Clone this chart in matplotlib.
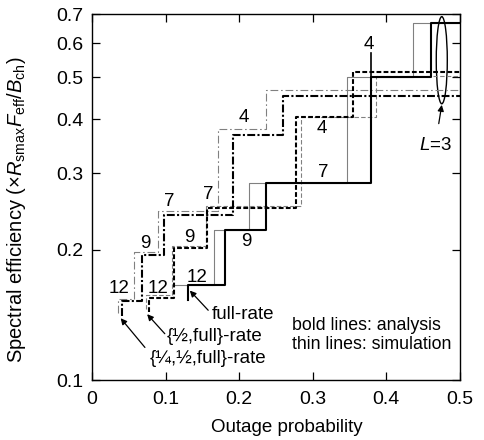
import numpy as np
import matplotlib
matplotlib.use("Agg")
import matplotlib.pyplot as plt
from matplotlib.patches import Ellipse
from matplotlib.ticker import FixedLocator, NullLocator, FixedFormatter

plt.rcParams["font.family"] = ["Liberation Sans", "DejaVu Sans"]
plt.rcParams["mathtext.fontset"] = "custom"
plt.rcParams["mathtext.rm"] = "Liberation Sans"
plt.rcParams["mathtext.it"] = "Liberation Sans:italic"

# step edges (outage probability) and efficiency levels for L = 12, 9, 7, 4, 3
full_ana_x = [0.130, 0.181, 0.236, 0.379, 0.461]
full_ana_y = [0.166, 0.222, 0.285, 0.500, 0.667]
full_sim_x = [0.113, 0.166, 0.214, 0.346, 0.437]
full_sim_y = [0.166, 0.222, 0.285, 0.500, 0.667]

half_ana_x = [0.077, 0.112, 0.156, 0.278, 0.355]
half_ana_y = [0.155, 0.202, 0.250, 0.405, 0.514]
half_sim_x = [0.074, 0.109, 0.155, 0.284, 0.386]
half_sim_y = [0.157, 0.204, 0.252, 0.404, 0.505]

quar_ana_x = [0.041, 0.068, 0.098, 0.192, 0.260]
quar_ana_y = [0.152, 0.194, 0.240, 0.368, 0.453]
quar_sim_x = [0.035, 0.057, 0.090, 0.172, 0.237]
quar_sim_y = [0.154, 0.198, 0.246, 0.381, 0.468]

start_bottom = {"full": 0.153, "half": 0.144, "quar": 0.141}
L_values = [12, 9, 7, 4, 3]


def stair(xs, ys, bottom, xmax=0.5):
    X = [xs[0]]
    Y = [bottom]
    for i in range(len(xs)):
        nxt = xs[i + 1] if i + 1 < len(xs) else xmax
        X += [xs[i], nxt]
        Y += [ys[i], ys[i]]
    return X, Y


fig = plt.figure(figsize=(4.84, 4.40), dpi=100)
ax = fig.add_axes([0.190, 0.136, 0.760, 0.832])
ax.set_yscale("log")

thin_c = "#808080"
# simulation (thin)
X, Y = stair(full_sim_x, full_sim_y, full_sim_y[0])
ax.plot(X, Y, color=thin_c, lw=0.8, zorder=2)
X, Y = stair(half_sim_x, half_sim_y, 0.146)
ax.plot(X, Y, color=thin_c, lw=0.8, dashes=(4, 2), zorder=2)
X, Y = stair(quar_sim_x, quar_sim_y, 0.143)
ax.plot(X, Y, color=thin_c, lw=0.8, dashes=(7, 2.5, 1.5, 2.5), zorder=2)

# analysis (bold)
X, Y = stair(full_ana_x, full_ana_y, start_bottom["full"])
ax.plot(X, Y, color="black", lw=1.5, zorder=3)
X, Y = stair(half_ana_x, half_ana_y, start_bottom["half"])
ax.plot(X, Y, color="black", lw=1.5, dashes=(2.3, 1.1), zorder=3)
X, Y = stair(quar_ana_x, quar_ana_y, start_bottom["quar"])
ax.plot(X, Y, color="black", lw=1.5, dashes=(3.8, 1.1, 1.0, 1.1), zorder=3)

ax.set_xlim(0, 0.5)
ax.set_ylim(0.1, 0.7)

yt = [0.1, 0.2, 0.3, 0.4, 0.5, 0.6, 0.7]
ax.yaxis.set_major_locator(FixedLocator(yt))
ax.yaxis.set_major_formatter(FixedFormatter([f"{v:g}" for v in yt]))
ax.yaxis.set_minor_locator(NullLocator())
xt = [0, 0.1, 0.2, 0.3, 0.4, 0.5]
ax.set_xticks(xt)
ax.set_xticklabels([f"{v:g}" for v in xt])
ax.tick_params(direction="in", length=6, width=0.9, top=True, right=True,
               labelsize=14)
ax.tick_params(axis="x", pad=8)
ax.tick_params(axis="y", pad=6)
for s in ax.spines.values():
    s.set_linewidth(1.0)

ax.set_xlabel("Outage probability", fontsize=13.5)
ax.xaxis.set_label_coords(0.53, -0.105)
ax.set_ylabel(r"Spectral efficiency ($\times R_{\rm smax}F_{\rm eff}/B_{\rm ch}$)",
              fontsize=14.5)
ax.yaxis.set_label_coords(-0.175, 0.465)

# L labels
fs = 13.5
labels = [
    ("12", 0.037, 0.163), ("12", 0.090, 0.163), ("12", 0.143, 0.173),
    ("9", 0.072, 0.207), ("9", 0.132, 0.213), ("9", 0.210, 0.209),
    ("7", 0.105, 0.258), ("7", 0.158, 0.268), ("7", 0.315, 0.301),
    ("4", 0.206, 0.403), ("4", 0.313, 0.382), ("4", 0.377, 0.594),
]
for t, x, y in labels:
    ax.text(x, y, t, fontsize=fs, ha="center", va="center")
ax.plot([full_ana_x[3], full_ana_x[3]], [full_ana_y[3], 0.569], color="black", lw=1.2, zorder=3)

# L=3 ellipse
ax.add_patch(Ellipse((0.951, 0.874), 0.030, 0.238, transform=ax.transAxes,
                     fill=False, lw=1.0, color="black"))
ax.annotate("$L$=3", xy=(0.951, 0.752), xycoords="axes fraction",
            xytext=(0.933, 0.64), textcoords="axes fraction",
            fontsize=fs, ha="center", va="center",
            arrowprops=dict(arrowstyle="-|>", lw=0.9, color="black",
                            mutation_scale=9, shrinkA=8, shrinkB=0))

arr = dict(arrowstyle="-|>", lw=0.9, color="black", mutation_scale=9,
           shrinkA=0, shrinkB=0)
ax.annotate("", xy=(0.133, 0.161), xytext=(0.158, 0.145), arrowprops=arr)
ax.text(0.205, 0.142, "full-rate", fontsize=fs, ha="center", va="center")
ax.annotate("", xy=(0.075, 0.142), xytext=(0.099, 0.128), arrowprops=arr)
ax.text(0.167, 0.126, "{½,full}-rate", fontsize=fs, ha="center", va="center")
ax.annotate("", xy=(0.039, 0.139), xytext=(0.072, 0.119), arrowprops=arr)
ax.text(0.158, 0.112, "{¼,½,full}-rate", fontsize=fs, ha="center", va="center")

ax.text(0.272, 0.127, "bold lines: analysis\nthin lines: simulation",
        fontsize=12.8, ha="left", va="center", linespacing=1.15)

fig.savefig("out.png", dpi=100)
